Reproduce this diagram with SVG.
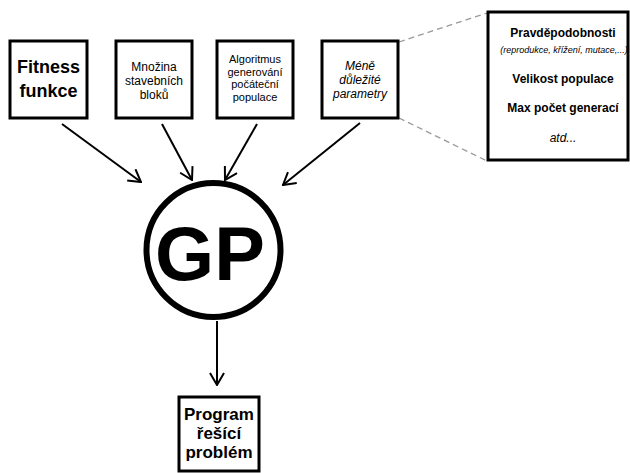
<svg xmlns="http://www.w3.org/2000/svg" width="630" height="473" viewBox="0 0 630 473">
<defs>
<style>
.box{fill:#fff;stroke:#000;stroke-width:3}
.t{font-family:"Liberation Sans",Arial,sans-serif;fill:#000;text-anchor:middle}
.b{font-weight:bold}
.i{font-style:italic}
.edge{stroke:#000;stroke-width:2;fill:none}
.dash{stroke:#999;stroke-width:1.3;stroke-dasharray:6,4;fill:none}
</style>
<marker id="arr" viewBox="0 0 14 16" refX="13" refY="8" markerWidth="14" markerHeight="16" markerUnits="userSpaceOnUse" orient="auto">
<path d="M1,1 L13,8 L1,15" fill="none" stroke="#000" stroke-width="2"/>
</marker>
</defs>
<rect width="630" height="473" fill="#fff"/>
<g id="connectors">
<line class="edge" x1="62" y1="124" x2="141" y2="182" marker-end="url(#arr)"/>
<line class="edge" x1="162" y1="124" x2="192" y2="180" marker-end="url(#arr)"/>
<line class="edge" x1="257" y1="124" x2="225" y2="180" marker-end="url(#arr)"/>
<line class="edge" x1="360" y1="123" x2="283" y2="185" marker-end="url(#arr)"/>
<line class="edge" x1="217" y1="321" x2="217" y2="385" marker-end="url(#arr)"/>
<line class="dash" x1="399" y1="42" x2="487" y2="13"/>
<line class="dash" x1="399" y1="118" x2="487" y2="161"/>
</g>
<g id="fitness">
<rect class="box" x="10" y="41" width="77" height="77"/>
<text class="t b" font-size="18" x="48.5" y="73">Fitness</text>
<text class="t b" font-size="18" x="48.5" y="97">funkce</text>
</g>
<g id="mnozina">
<rect class="box" x="116" y="41" width="76" height="77"/>
<text class="t" font-size="12" x="154" y="71">Množina</text>
<text class="t" font-size="12" x="154" y="85">stavebních</text>
<text class="t" font-size="12" x="154" y="99">bloků</text>
</g>
<g id="algoritmus">
<rect class="box" x="217" y="41" width="76" height="77"/>
<text class="t" font-size="11" x="255" y="63">Algoritmus</text>
<text class="t" font-size="11" x="255" y="75.5">generování</text>
<text class="t" font-size="11" x="255" y="88">počáteční</text>
<text class="t" font-size="11" x="255" y="100.5">populace</text>
</g>
<g id="parametry">
<rect class="box" x="322" y="41" width="76" height="77"/>
<text class="t i" font-size="12" x="360" y="70">Méně</text>
<text class="t i" font-size="12" x="360" y="84">důležité</text>
<text class="t i" font-size="12" x="360" y="98">parametry</text>
</g>
<g id="detail">
<rect class="box" x="488" y="12" width="140" height="148"/>
<text class="t b" font-size="12" x="563" y="37">Pravděpodobnosti</text>
<text class="t i" font-size="9" x="564" y="53">(reprodukce, křížení, mutace,...)</text>
<text class="t b" font-size="12" x="563" y="83">Velikost populace</text>
<text class="t b" font-size="12" x="563" y="112">Max počet generací</text>
<text class="t i" font-size="12" x="563" y="142">atd...</text>
</g>
<g id="gp">
<circle cx="213.5" cy="250" r="67" fill="#fff" stroke="#000" stroke-width="6"/>
<text class="t b" font-size="76" x="210" y="280">GP</text>
</g>
<g id="program">
<rect class="box" x="179" y="397" width="80" height="74"/>
<text class="t b" font-size="17" x="219" y="420">Program</text>
<text class="t b" font-size="17" x="219" y="439">řešící</text>
<text class="t b" font-size="17" x="219" y="458">problém</text>
</g>
</svg>
